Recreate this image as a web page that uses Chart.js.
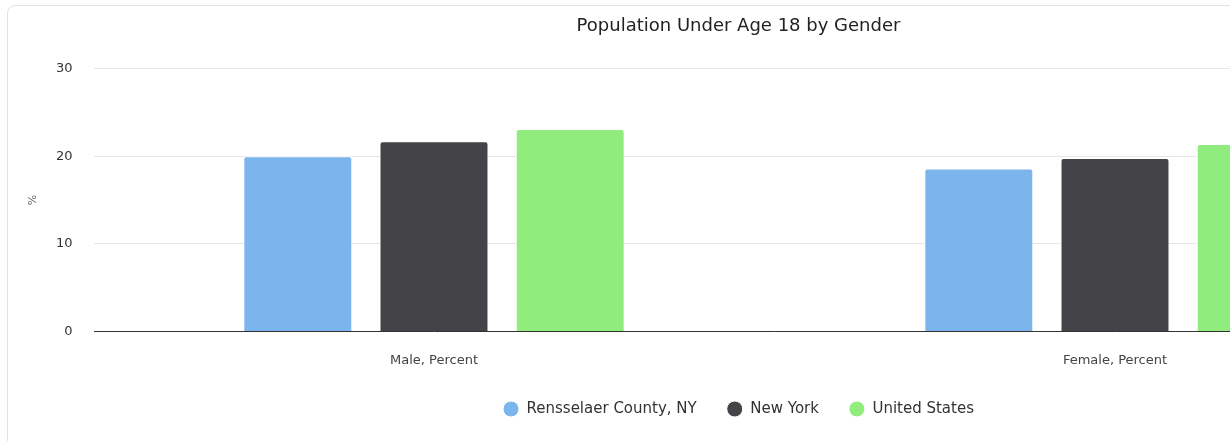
<!DOCTYPE html>
<html>
<head>
<meta charset="utf-8">
<script src="https://cdn.jsdelivr.net/npm/chart.js@4"></script>
<style>
  html, body { margin: 0; padding: 0; background: #fff; overflow: hidden; width: 1230px; height: 441px; }
  .card { position: absolute; left: 7px; top: 5px; width: 1400px; height: 520px; border: 1px solid #e3e3e3; border-radius: 8px; box-sizing: border-box; }
  #chart { position: absolute; left: 0; top: 0; }
</style>
</head>
<body>
<div class="card"></div>
<canvas id="chart" width="1477" height="441"></canvas>
<script>
// Datos
const categories = ["Male, Percent", "Female, Percent"];
const rensselaerCounty = [20.0, 18.6];
const newYork = [21.7, 19.8];
const unitedStates = [23.1, 21.4];
const yTicks = [0, 10, 20, 30];

const font = "'DejaVu Sans', Verdana, sans-serif";

const ctx = document.getElementById("chart").getContext("2d");

new Chart(ctx, {
  type: "bar",
  data: {
    labels: categories,
    datasets: [
      { label: "Rensselaer County, NY", data: rensselaerCounty, backgroundColor: "#7cb5ec" },
      { label: "New York", data: newYork, backgroundColor: "#434348" },
      { label: "United States", data: unitedStates, backgroundColor: "#90ed7d" },
    ].map(ds => ({
      ...ds,
      borderColor: "#ffffff",
      borderWidth: 1,
      borderRadius: 3,
      categoryPercentage: 0.6,
      barPercentage: 0.8,
    })),
  },
  options: {
    responsive: false,
    animation: false,
    layout: { padding: { left: 21.5, right: 21.5, top: 0, bottom: 14.5 } },
    plugins: {
      title: {
        display: true,
        text: "Population Under Age 18 by Gender",
        color: "#222222",
        font: { family: font, size: 18, weight: "normal" },
        padding: { top: 16, bottom: 31 },
      },
      legend: {
        position: "bottom",
        labels: {
          usePointStyle: true,
          pointStyle: "circle",
          pointStyleWidth: 16,
          boxHeight: 11.3,
          padding: 30,
          color: "#333333",
          font: { family: font, size: 15 },
        },
      },
      tooltip: { enabled: false },
    },
    scales: {
      x: {
        grid: { display: false, drawTicks: false },
        border: { display: false },
        ticks: { color: "#444444", font: { family: font, size: 13 }, padding: 21 },
        afterFit: scale => { scale.height = 40; },
      },
      y: {
        min: 0,
        max: 30,
        afterBuildTicks: scale => { scale.ticks = yTicks.map(v => ({ value: v })); },
        grid: {
          drawTicks: false,
          color: c => (c.tick && c.tick.value === 0 ? "#333333" : "#e6e6e6"),
          lineWidth: 1,
        },
        border: { display: false },
        ticks: { color: "#333333", font: { family: font, size: 13 }, padding: 21 },
        title: {
          display: true,
          text: "%",
          color: "#666666",
          font: { family: font, size: 11 },
          padding: { top: 5, bottom: 0 },
        },
        afterFit: scale => { scale.width = 72; },
      },
    },
  },
});
</script>
</body>
</html>
